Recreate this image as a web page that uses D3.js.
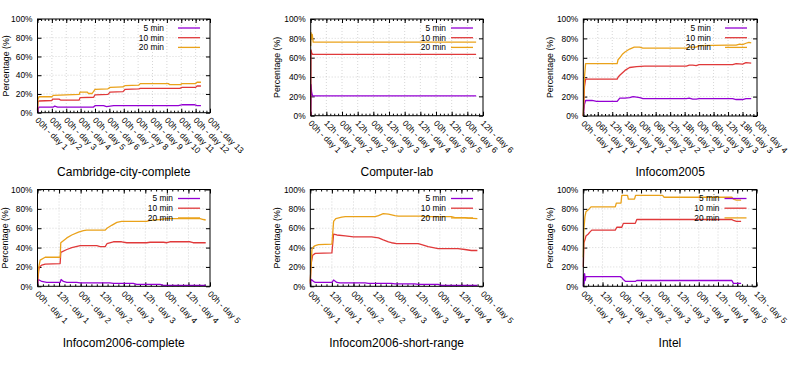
<!DOCTYPE html>
<html>
<head>
<meta charset="utf-8">
<script src="https://cdn.jsdelivr.net/npm/d3@7"></script>
<style>
body { margin: 0; background: #fff; }
svg { display: block; font-family: "Liberation Sans", Arial, sans-serif; }
</style>
</head>
<body>
<svg id="chart" width="794" height="372"></svg>
<script>
// values are [day, percentage]
const cambridge5 = [[0,0],[0.05,4],[0.1,6],[1.1,6],[1.2,7],[1.4,6],[3.9,6],[4.0,7.5],[4.6,7.5],[4.8,6.5],[5.05,7],[5.3,7.5],[9.8,7.5],[10.1,8.5],[10.9,8.5],[11.1,7.5],[11.37,7.5]];
const cambridge10 = [[0,2],[0.03,11],[0.1,12.5],[1,13],[1.05,14.5],[1.5,14.5],[1.6,13.5],[2.9,13.5],[2.96,16],[3.9,16.5],[4.0,19],[4.9,19.5],[5.05,22],[5.95,22.5],[6.1,25],[7.05,25.5],[7.15,26],[9.9,26],[10.05,27],[11.0,27],[11.1,28.5],[11.37,28.5]];
const cambridge20 = [[0,3],[0.03,14],[0.1,17],[1,17],[1.1,18.5],[2.9,19.5],[2.96,22],[3.45,22],[3.55,20.5],[3.8,20.5],[4.0,25],[4.9,25.5],[5.05,27],[5.95,27.5],[6.1,29],[7.05,29.5],[7.15,31],[9.1,31],[9.2,30],[9.95,30],[10.05,31],[11.0,31],[11.1,32.5],[11.37,32.5]];
const cambridgeTickDays = [0,1,2,3,4,5,6,7,8,9,10,11,12];
const cambridgeTicks = ["00h - day 1","00h - day 2","00h - day 3","00h - day 4","00h - day 5","00h - day 6","00h - day 7","00h - day 8","00h - day 9","00h - day 10","00h - day 11","00h - day 12","00h - day 13"];

const lab5 = [[0,0],[0.01,32],[0.03,24],[0.06,20.5],[5.28,20.5]];
const lab10 = [[0,0],[0.01,68],[0.03,65],[0.06,63.5],[5.28,63.5]];
const lab20 = [[0,72],[0.01,86],[0.03,80],[0.05,84],[0.08,76],[5.28,76]];
const labTickDays = [0,0.5,1,1.5,2,2.5,3,3.5,4,4.5,5,5.5];
const labTicks = ["00h - day 1","12h - day 1","00h - day 2","12h - day 2","00h - day 3","12h - day 3","00h - day 4","12h - day 4","00h - day 5","12h - day 5","00h - day 6","12h - day 6"];

const info05_5 = [[0,0],[0.02,12],[0.04,16],[0.15,16],[0.23,15],[0.585,15],[0.63,18.5],[0.72,18.5],[0.8,19],[0.86,20],[0.92,19.5],[0.975,19],[1.03,18],[1.78,18],[1.83,18.5],[1.89,17.5],[1.95,17.5],[2.0,18],[2.58,18],[2.64,17],[2.75,17],[2.81,18],[2.9,18]];
const info05_10 = [[0,0],[0.02,30],[0.04,38],[0.585,38],[0.6,40],[0.63,42],[0.72,47],[0.8,50],[0.92,51],[1.06,51.5],[1.78,51.5],[1.83,52.5],[1.89,52.5],[1.95,52],[2.0,53],[2.58,53],[2.64,54],[2.75,53.5],[2.81,55],[2.9,54.5]];
const info05_20 = [[0,0],[0.02,40],[0.04,54],[0.585,54],[0.6,58],[0.63,60],[0.68,64],[0.72,66],[0.8,69],[0.88,71],[0.97,71],[1.03,70],[1.78,70],[1.83,71],[1.95,71],[2.0,72.5],[2.5,73],[2.64,73],[2.7,74],[2.75,73.5],[2.81,75],[2.86,76],[2.9,75.5]];
const info05TickDays = [0,0.25,0.5,0.75,1,1.25,1.5,1.75,2,2.25,2.5,2.75,3];
const info05Ticks = ["00h - day 1","06h - day 1","12h - day 1","18h - day 1","00h - day 2","06h - day 2","12h - day 2","18h - day 2","00h - day 3","06h - day 3","12h - day 3","18h - day 3","00h - day 4"];

const info06c_5 = [[0,2],[0.02,7],[0.1,5],[0.216,4],[0.525,4],[0.548,7],[0.6,5],[0.68,4],[0.91,4],[0.99,3.5],[1.68,3.5],[1.76,3],[2.22,3],[2.3,2],[2.84,2],[2.92,1],[3.9,1]];
const info06c_10 = [[0,3],[0.03,17],[0.046,20],[0.1,22],[0.178,23],[0.525,23.5],[0.54,35],[0.68,38],[0.795,40],[0.99,42],[1.375,42],[1.45,41],[1.57,41],[1.61,44],[1.76,46],[1.95,46],[2.07,45],[2.53,45],[2.61,45.5],[2.92,45.5],[3.0,45],[3.07,46],[3.54,46],[3.61,45],[3.9,45]];
const info06c_20 = [[0,5],[0.03,20],[0.062,27],[0.178,30],[0.525,30],[0.54,45],[0.68,50],[0.795,53],[0.95,56],[1.066,57.5],[1.14,58],[1.57,58],[1.61,60],[1.72,63],[1.84,66],[1.95,67],[2.53,67],[2.61,68],[2.84,69],[3.0,70],[3.77,70],[3.85,69],[3.9,68.5]];
const info06sr_5 = [[0,2],[0.023,7],[0.077,5],[0.115,4],[0.5,4],[0.54,6.5],[0.615,4],[0.69,3.5],[1.27,3.5],[1.35,3],[1.88,3],[1.96,2.5],[2.42,2.5],[2.5,2],[2.96,2],[3.04,1],[3.87,1]];
const info06sr_10 = [[0,3],[0.015,22],[0.054,32],[0.115,34],[0.5,34.5],[0.54,54],[0.615,53],[0.81,52],[1.0,51],[1.42,51],[1.58,50],[1.69,48],[1.81,46],[1.88,45],[2.0,44],[2.5,44],[2.58,43],[2.73,41],[2.96,39],[3.42,39],[3.58,38],[3.73,37],[3.87,37]];
const info06sr_20 = [[0,5],[0.038,38],[0.077,41],[0.115,42],[0.19,43],[0.5,43.5],[0.54,67],[0.59,70],[0.73,71.5],[0.81,72],[1.5,72],[1.58,73],[1.69,75],[1.81,74.5],[1.96,73],[2.04,72.5],[2.58,72.5],[2.65,72],[3.27,72],[3.35,71],[3.58,71],[3.65,70.5],[3.87,70]];
const info06TickDays = [0,0.5,1,1.5,2,2.5,3,3.5,4];
const info06Ticks = ["00h - day 1","12h - day 1","00h - day 2","12h - day 2","00h - day 3","12h - day 3","00h - day 4","12h - day 4","00h - day 5"];

const intel5 = [[0,0],[0.01,12],[0.02,3],[0.035,13],[0.05,6],[0.07,10],[0.96,10],[1.0,9],[1.04,7],[1.1,5],[1.35,5],[1.39,6],[3.86,6],[3.9,3],[4.1,3]];
const intel10 = [[0,20],[0.017,45],[0.043,48],[0.069,52],[0.13,54],[0.17,56],[0.22,58],[0.83,58],[0.87,61],[1.0,61],[1.04,65],[1.35,65],[1.39,69],[3.86,69],[3.9,68],[3.98,67],[4.1,67]];
const intel20 = [[0,30],[0.017,60],[0.043,72],[0.069,77],[0.13,79],[0.2,82],[0.83,82],[0.86,86],[0.98,86],[1.0,94],[1.15,94],[1.17,90],[1.33,90],[1.36,94],[2.06,94],[2.1,92],[3.86,92],[3.9,90],[3.98,89],[4.1,89]];
const intelTickDays = [0,0.5,1,1.5,2,2.5,3,3.5,4,4.5];
const intelTicks = ["00h - day 1","12h - day 1","00h - day 2","12h - day 2","00h - day 3","12h - day 3","00h - day 4","12h - day 4","00h - day 5","12h - day 5"];

const seriesNames = ["5 min", "10 min", "20 min"];
const yTicks = [0, 20, 40, 60, 80, 100];

const colors = ["#9400d3", "#e0393a", "#eaa21a"];
const FONT = '"Liberation Sans", Arial, sans-serif';

const panels = [
    {title: "Cambridge-city-complete", series: [cambridge5, cambridge10, cambridge20], days: cambridgeTickDays, labels: cambridgeTicks,
     box: [37.5, 210, 19, 112.7], ylabX: 6, titleY: 171.5, keyText: 46},
    {title: "Computer-lab", series: [lab5, lab10, lab20], days: labTickDays, labels: labTicks,
     box: [310.7, 483, 19, 115.7], ylabX: 277, titleY: 171.5, keyText: 37},
    {title: "Infocom2005", series: [info05_5, info05_10, info05_20], days: info05TickDays, labels: info05Ticks,
     box: [583.3, 757, 19, 116], ylabX: 550, titleY: 171.5, keyText: 46},
    {title: "Infocom2006-complete", series: [info06c_5, info06c_10, info06c_20], days: info06TickDays, labels: info06Ticks,
     box: [37.5, 210, 189.5, 286.3], ylabX: 5, titleY: 342.5, keyText: 37},
    {title: "Infocom2006-short-range", series: [info06sr_5, info06sr_10, info06sr_20], days: info06TickDays, labels: info06Ticks,
     box: [310.3, 483, 189.5, 286.3], ylabX: 277, titleY: 342.5, keyText: 37},
    {title: "Intel", series: [intel5, intel10, intel20], days: intelTickDays, labels: intelTicks,
     box: [583.3, 756.5, 189.5, 286.3], ylabX: 550, titleY: 342.5, keyText: 37}
];

const svg = d3.select("#chart");

panels.forEach(p => {
    const [l, r, t, b] = p.box;
    const days = p.days;
    const step = days[1] - days[0];
    const x = d3.scaleLinear().domain([0, days[days.length - 1]]).range([l, r]);
    const y = d3.scaleLinear().domain([0, 100]).range([b, t]);
    const minor = d3.range(0, days[days.length - 1] + 1e-9, step / 4);

    const g = svg.append("g");

    // grid
    g.append("g").selectAll("line").data(days.slice(1, -1)).join("line")
        .attr("x1", d => x(d)).attr("x2", d => x(d)).attr("y1", t).attr("y2", b)
        .attr("stroke", "#c4c4c4").attr("stroke-width", 0.7).attr("stroke-dasharray", "1,2");
    g.append("g").selectAll("line").data(yTicks.slice(1, -1)).join("line")
        .attr("x1", l).attr("x2", r).attr("y1", d => y(d)).attr("y2", d => y(d))
        .attr("stroke", "#c4c4c4").attr("stroke-width", 0.7).attr("stroke-dasharray", "1,2");

    const style = sel => sel.attr("font-family", FONT).attr("font-size", 8.4)
        .call(s => s.select(".domain").remove());

    g.append("g").attr("transform", `translate(${l},0)`)
        .call(d3.axisLeft(y).tickValues(yTicks).tickFormat(d => d + "%").tickSize(-4).tickPadding(5))
        .call(style);
    g.append("g").attr("transform", `translate(${r},0)`)
        .call(d3.axisRight(y).tickValues(yTicks).tickFormat("").tickSize(-4))
        .call(style);

    const xb = g.append("g").attr("transform", `translate(0,${b})`)
        .call(d3.axisBottom(x).tickValues(days).tickFormat((d, i) => p.labels[i]).tickSize(-4))
        .call(style);
    xb.selectAll("text")
        .attr("x", 0).attr("y", 0).attr("dy", "0.7em")
        .attr("text-anchor", "start")
        .attr("transform", "translate(1,4) rotate(45)");
    g.append("g").attr("transform", `translate(0,${b})`)
        .call(d3.axisBottom(x).tickValues(minor).tickFormat("").tickSize(-2))
        .call(style);
    g.append("g").attr("transform", `translate(0,${t})`)
        .call(d3.axisTop(x).tickValues(days).tickFormat("").tickSize(-4))
        .call(style);
    g.append("g").attr("transform", `translate(0,${t})`)
        .call(d3.axisTop(x).tickValues(minor).tickFormat("").tickSize(-2))
        .call(style);

    // lines
    const line = d3.line().x(d => x(d[0])).y(d => y(d[1]));
    g.append("g").selectAll("path").data(p.series).join("path")
        .attr("d", line)
        .attr("fill", "none")
        .attr("stroke", (d, i) => colors[i])
        .attr("stroke-width", 1.3)
        .attr("stroke-linejoin", "round");

    // key
    const key = g.append("g").selectAll("g").data(seriesNames).join("g")
        .attr("transform", (d, i) => `translate(0,${t + 9 + i * 9.7})`);
    key.append("text")
        .attr("x", r - p.keyText).attr("dy", "0.35em")
        .attr("text-anchor", "end")
        .attr("font-size", 8.4)
        .text(d => d);
    key.append("line")
        .attr("x1", r - 32).attr("x2", r - 10)
        .attr("stroke", (d, i) => colors[i]).attr("stroke-width", 1.3);

    // frame
    g.append("rect").attr("x", l).attr("y", t).attr("width", r - l).attr("height", b - t)
        .attr("fill", "none").attr("stroke", "#000").attr("stroke-width", 1);

    g.append("text")
        .attr("transform", `translate(${p.ylabX},${(t + b) / 2}) rotate(-90)`)
        .attr("dy", "0.35em").attr("text-anchor", "middle")
        .attr("font-size", 8.8)
        .text("Percentage (%)");

    g.append("text")
        .attr("x", (l + r) / 2).attr("y", p.titleY).attr("dy", "0.35em")
        .attr("text-anchor", "middle").attr("font-size", 12)
        .text(p.title);
});
</script>
</body>
</html>
